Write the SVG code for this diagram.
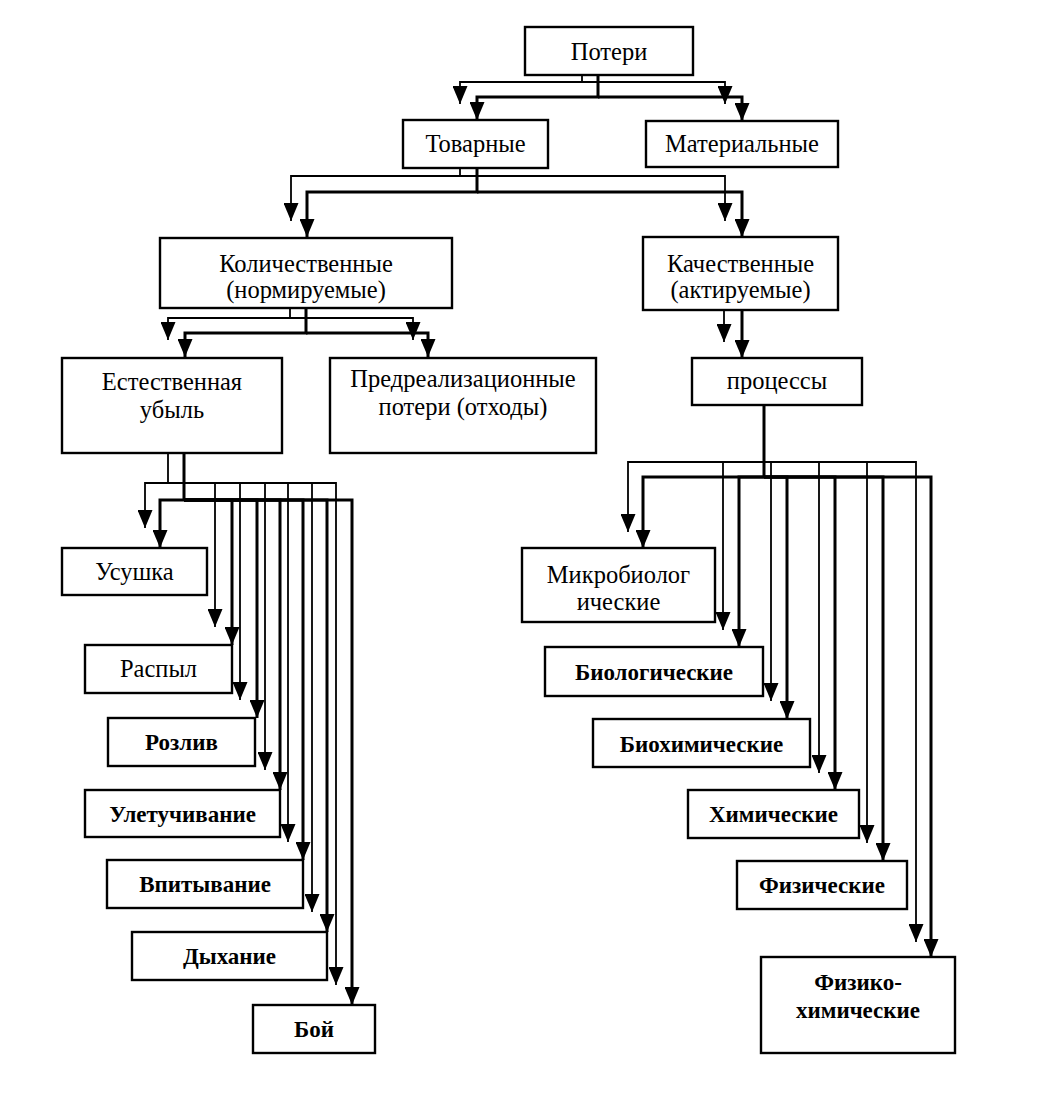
<svg xmlns="http://www.w3.org/2000/svg" width="1056" height="1111" viewBox="0 0 1056 1111">
<defs>
<marker id="ah" viewBox="0 0 18 15" refX="18" refY="7.5" markerWidth="18" markerHeight="15" orient="auto" markerUnits="userSpaceOnUse">
<path d="M0,0 L18,7.5 L0,15 z" fill="#000"/>
</marker>
<style>
.box{fill:#fff;stroke:#000;stroke-width:2.4}
.t{font-family:"Liberation Serif","Times New Roman",serif;font-size:24.5px;fill:#000;text-anchor:middle}
.b{font-weight:bold;font-size:23px}
.thin{fill:none;stroke:#000;stroke-width:1.8;marker-end:url(#ah)}
.thick{fill:none;stroke:#000;stroke-width:3;marker-end:url(#ah)}
.thickl{fill:none;stroke:#000;stroke-width:3}
</style>
</defs>
<rect width="1056" height="1111" fill="#fff"/>
<g id="connectors">
<path class="thin" d="M582,75 V82 H460 V104"/>
<path class="thin" d="M582,82 H725 V104"/>
<path class="thick" d="M598,75 V97 H477 V120"/>
<path class="thick" d="M598,97 H742 V121"/>
<path class="thin" d="M460,168 V176 H291 V221"/>
<path class="thin" d="M460,176 H725 V221"/>
<path class="thick" d="M477,168 V192 H307 V237"/>
<path class="thick" d="M477,192 H742 V237"/>
<path class="thin" d="M290,308 V318 H168 V340"/>
<path class="thin" d="M290,318 H413 V340"/>
<path class="thick" d="M306,308 V333 H185 V357"/>
<path class="thick" d="M306,333 H428 V357"/>
<path class="thin" d="M724,310 V342"/>
<path class="thick" d="M742,310 V358"/>
<path class="thin" d="M168,453 V483 H145 V528"/>
<path class="thin" d="M168,483 H215 V627"/>
<path class="thin" d="M168,483 H240 V700"/>
<path class="thin" d="M168,483 H265 V770"/>
<path class="thin" d="M168,483 H288 V842"/>
<path class="thin" d="M168,483 H312 V912"/>
<path class="thin" d="M168,483 H336 V985"/>
<path class="thick" d="M184,453 V500 H160 V548"/>
<path class="thick" d="M184,500 H232 V645"/>
<path class="thick" d="M184,500 H257 V718"/>
<path class="thick" d="M184,500 H280 V790"/>
<path class="thick" d="M184,500 H303 V860"/>
<path class="thick" d="M184,500 H327 V932"/>
<path class="thick" d="M184,500 H352 V1005"/>
<path class="thickl" d="M764,405 V477"/>
<path class="thin" d="M764,462 H628 V532"/>
<path class="thin" d="M764,462 H723 V630"/>
<path class="thin" d="M764,462 H771 V701"/>
<path class="thin" d="M764,462 H819 V773"/>
<path class="thin" d="M764,462 H867 V843"/>
<path class="thin" d="M764,462 H916 V942"/>
<path class="thick" d="M764,477 H643 V548"/>
<path class="thick" d="M764,477 H739 V647"/>
<path class="thick" d="M764,477 H787 V719"/>
<path class="thick" d="M764,477 H835 V790"/>
<path class="thick" d="M764,477 H883 V861"/>
<path class="thick" d="M764,477 H931 V957"/>
</g>
<g id="n-poteri"><rect class="box" x="525" y="27" width="168" height="48"/><text class="t" x="609" y="60">Потери</text></g>
<g id="n-tovarnye"><rect class="box" x="403" y="120" width="145" height="48"/><text class="t" x="475.5" y="152">Товарные</text></g>
<g id="n-materialnye"><rect class="box" x="646" y="121" width="192" height="46"/><text class="t" x="742" y="152">Материальные</text></g>
<g id="n-kolich"><rect class="box" x="160" y="238" width="292" height="70"/><text class="t" x="306" y="272">Количественные</text><text class="t" x="306" y="298">(нормируемые)</text></g>
<g id="n-kach"><rect class="box" x="643" y="237" width="195" height="73"/><text class="t" x="740.5" y="272">Качественные</text><text class="t" x="740.5" y="298">(актируемые)</text></g>
<g id="n-estest"><rect class="box" x="62" y="358" width="220" height="95"/><text class="t" x="172" y="390">Естественная</text><text class="t" x="172" y="418">убыль</text></g>
<g id="n-predreal"><rect class="box" x="330" y="358" width="266" height="95"/><text class="t" x="463" y="387">Предреализационные</text><text class="t" x="463" y="415">потери (отходы)</text></g>
<g id="n-processy"><rect class="box" x="692" y="358" width="170" height="47"/><text class="t" x="777" y="389">процессы</text></g>
<g id="n-usushka"><rect class="box" x="62" y="548" width="145" height="47"/><text class="t" x="134.5" y="580">Усушка</text></g>
<g id="n-raspyl"><rect class="box" x="85" y="645" width="147" height="48"/><text class="t" x="158.5" y="677">Распыл</text></g>
<g id="n-rozliv"><rect class="box" x="108" y="718" width="147" height="48"/><text class="t b" x="181.5" y="750">Розлив</text></g>
<g id="n-uletuch"><rect class="box" x="85" y="790" width="195" height="47"/><text class="t b" x="182.5" y="822">Улетучивание</text></g>
<g id="n-vpit"><rect class="box" x="107" y="860" width="196" height="48"/><text class="t b" x="205" y="892">Впитывание</text></g>
<g id="n-dyhanie"><rect class="box" x="132" y="932" width="195" height="48"/><text class="t b" x="229.5" y="964">Дыхание</text></g>
<g id="n-boi"><rect class="box" x="253" y="1005" width="122" height="48"/><text class="t b" x="314" y="1037">Бой</text></g>
<g id="n-mikro"><rect class="box" x="522" y="548" width="193" height="74"/><text class="t" x="618.5" y="583">Микробиолог</text><text class="t" x="618.5" y="610">ические</text></g>
<g id="n-bio"><rect class="box" x="545" y="647" width="218" height="49"/><text class="t b" x="654" y="680">Биологические</text></g>
<g id="n-biohim"><rect class="box" x="593" y="719" width="217" height="48"/><text class="t b" x="701.5" y="752">Биохимические</text></g>
<g id="n-him"><rect class="box" x="688" y="790" width="171" height="48"/><text class="t b" x="773.5" y="822">Химические</text></g>
<g id="n-fiz"><rect class="box" x="737" y="861" width="170" height="48"/><text class="t b" x="822" y="893">Физические</text></g>
<g id="n-fizhim"><rect class="box" x="761" y="957" width="194" height="96"/><text class="t b" x="858" y="990">Физико-</text><text class="t b" x="858" y="1018">химические</text></g>
</svg>
